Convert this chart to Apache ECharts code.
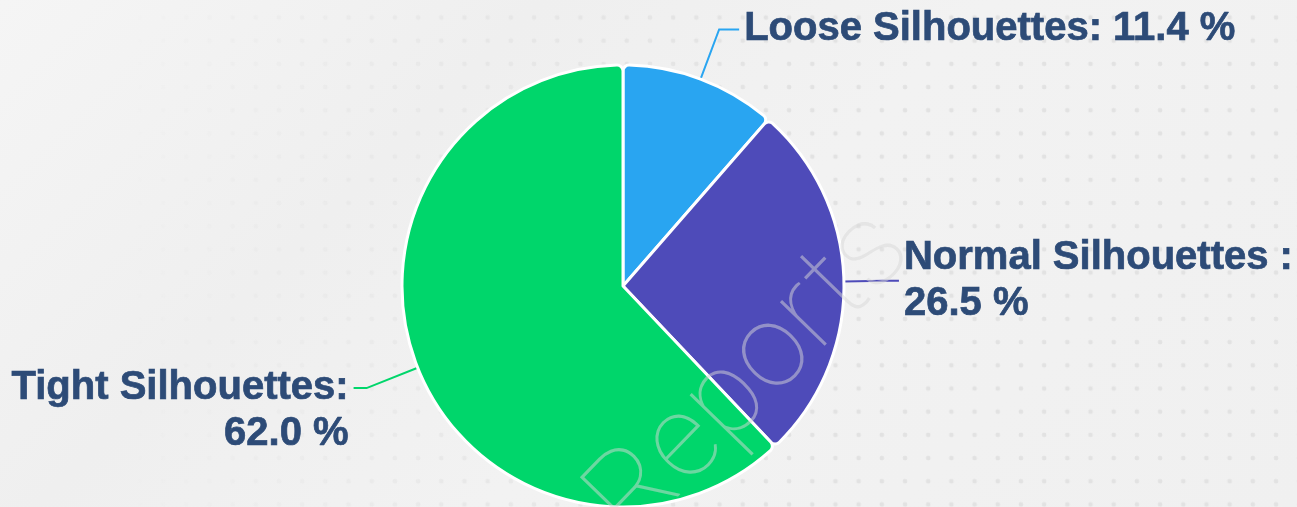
<!DOCTYPE html>
<html>
<head>
<meta charset="utf-8">
<script src="https://cdn.jsdelivr.net/npm/echarts@6/dist/echarts.min.js"></script>
<style>
html, body { margin:0; padding:0; }
#wrap {
	position:relative; width:1297px; height:507px; overflow:hidden;
	background: linear-gradient(135deg, #f5f5f5 0%, #efefef 30%, #f2f2f2 55%, #f0f0f0 100%);
}
#wrap:before {
	content:''; position:absolute; left:0; top:0; right:0; bottom:0;
	background-image: radial-gradient(circle, #e2e2e2 2px, rgba(226,226,226,0) 2.6px);
	background-size: 23.2px 23.2px;
	background-position: -10.9px 5.9px;
	-webkit-mask-image: linear-gradient(to right, rgba(0,0,0,0) 10%, rgba(0,0,0,0.6) 35%, #000 60%);
	mask-image: linear-gradient(to right, rgba(0,0,0,0) 10%, rgba(0,0,0,0.6) 35%, #000 60%);
}
#burnDownCharts { position:absolute; left:0; top:0; width:1297px; height:507px; }
</style>
</head>
<body>
<div id="wrap"><div id="burnDownCharts"></div></div>
<script>
// 数据
var names = ['Loose Silhouettes', 'Normal Silhouettes', 'Tight Silhouettes'];
var values = [11.4, 26.5, 62.0];
var colors = ['#29a5f1', '#4e4bb9', '#00d66b'];

var lineLen = [53, 40, 55];
var lineLen2 = [20, 15, 13];

var myChart = echarts.init(document.getElementById('burnDownCharts'));

var dataArr = [];
for (var i = 0; i < names.length; i++) {
	dataArr.push({
		name: names[i],
		value: values[i],
		itemStyle: { color: colors[i] },
		labelLine: { length: lineLen[i], length2: lineLen2[i] }
	});
}

var option = {
	graphic: [{
		type: 'text',
		x: 752, y: 378,
		rotation: 0.8,
		z: 100,
		silent: true,
		style: {
			text: 'Reports',
			fontFamily: 'Roboto',
			fontWeight: 100,
			fontSize: 118,
			fill: 'rgba(215,215,215,0.5)',
			textAlign: 'center',
			textVerticalAlign: 'middle'
		}
	}],
	series: [{
		type: 'pie',
		center: [623, 286],
		radius: 221,
		startAngle: 90,
		silent: true,
		animation: false,
		itemStyle: {
			borderColor: '#ffffff',
			borderWidth: 3,
			borderRadius: 6
		},
		label: {
			show: true,
			position: 'outside',
			bleedMargin: 1,
			color: '#2d4b77',
			textBorderColor: '#2d4b77',
			textBorderWidth: 0.7,
			fontFamily: 'Liberation Sans, Arial, sans-serif',
			fontWeight: 'bold',
			fontSize: 40,
			lineHeight: 46,
			formatter: function (p) {
				var v = p.value.toFixed(1) + ' %';
				if (p.dataIndex == 0) return p.name + ': ' + v;
				if (p.dataIndex == 1) return p.name + ' :\n' + v;
				return '\n' + p.name + ':\n' + v;
			}
		},
		labelLine: {
			show: true,
			smooth: false,
			lineStyle: { width: 2 }
		},
		data: dataArr
	}]
};

myChart.setOption(option);
</script>
</body>
</html>
